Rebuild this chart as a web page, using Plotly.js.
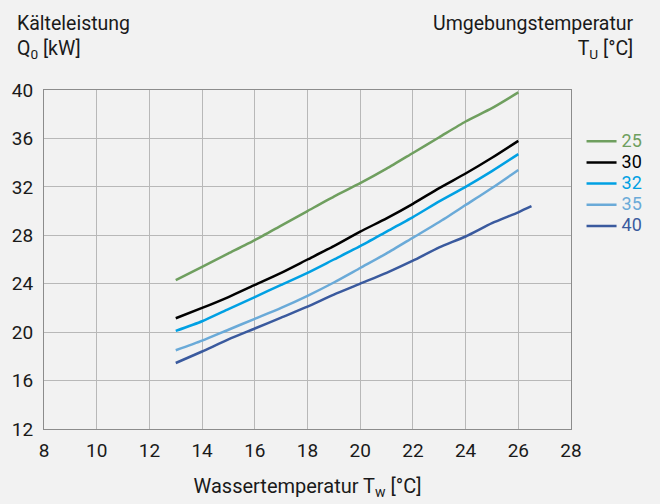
<!DOCTYPE html>
<html>
<head>
<meta charset="utf-8">
<script src="https://cdn.plot.ly/plotly-3.0.1.min.js"></script>
<style>html,body{margin:0;padding:0;background:#f2f2f2;}#chart{width:660px;height:504px;}</style>
</head>
<body>
<div id="chart"></div>
<script>
// Wassertemperatur T_w [°C]
const tw = [13, 14, 15, 16, 17, 18, 19, 20, 21, 22, 23, 24, 25, 26];
const tw40 = [13, 14, 15, 16, 17, 18, 19, 20, 21, 22, 23, 24, 25, 26, 26.5];
// Kälteleistung Q0 [kW] per Umgebungstemperatur T_U
const q25 = [24.3, 25.4, 26.5, 27.6, 28.8, 30.0, 31.2, 32.3, 33.5, 34.8, 36.1, 37.4, 38.5, 39.8];
const q30 = [21.15, 22.0, 22.9, 23.9, 24.9, 26.0, 27.1, 28.3, 29.4, 30.6, 31.9, 33.1, 34.4, 35.8];
const q32 = [20.1, 20.9, 21.9, 22.9, 23.9, 24.9, 26.0, 27.1, 28.3, 29.5, 30.8, 32.0, 33.3, 34.7];
const q35 = [18.5, 19.3, 20.2, 21.1, 22.0, 23.0, 24.1, 25.3, 26.5, 27.8, 29.1, 30.5, 31.9, 33.4];
const q40 = [17.45, 18.4, 19.4, 20.3, 21.2, 22.1, 23.1, 24.0, 24.9, 25.9, 27.0, 27.9, 29.0, 29.9, 30.4];
const seriesNames = ["25", "30", "32", "35", "40"];
const colors = ["#6f9f5f", "#000000", "#00a0e3", "#6aaad8", "#3a5a9e"];
const xTicks = [8, 10, 12, 14, 16, 18, 20, 22, 24, 26, 28];
const yTicks = [12, 16, 20, 24, 28, 32, 36, 40];

const FONT = "Roboto, 'Liberation Sans', Arial, sans-serif";
const xs = [tw, tw, tw, tw, tw40];
const ys = [q25, q30, q32, q35, q40];
const traces = ys.map((y, i) => ({
  x: xs[i], y: y, type: "scatter", mode: "lines",
  line: {color: colors[i], width: 2.5, shape: "spline", smoothing: 0.6},
  name: '<span style="color:' + colors[i] + ';font-size:18px">' + seriesNames[i] + '</span>',
  hoverinfo: "skip"
}));

const layout = {
  width: 660, height: 504,
  paper_bgcolor: "#f2f2f2", plot_bgcolor: "#f2f2f2",
  margin: {l: 44.3, r: 82.4, t: 89.7, b: 74.7, pad: 0},
  font: {family: FONT, size: 18, color: "#1a1a1a"},
  showlegend: true,
  legend: {x: 1.02, xanchor: "left", y: 0.895, yanchor: "top",
    bgcolor: "rgba(0,0,0,0)", font: {family: FONT, size: 14}, itemwidth: 30,
    tracegroupgap: 0},
  xaxis: {range: [8, 28], tickvals: xTicks, ticktext: xTicks.map(String),
    showgrid: true, gridcolor: "#b8b8b8", gridwidth: 1,
    showline: true, linecolor: "#8c8c8c", linewidth: 1, mirror: true,
    ticks: "", ticklabelstandoff: 4, zeroline: false,
    tickfont: {family: FONT, size: 19, color: "#1a1a1a"},
    title: {text: "Wassertemperatur T<sub>w</sub> [°C]", standoff: 18,
      font: {family: FONT, size: 20, color: "#1a1a1a"}}},
  yaxis: {range: [12, 40], tickvals: yTicks, ticktext: yTicks.map(String),
    showgrid: true, gridcolor: "#b8b8b8", gridwidth: 1,
    showline: true, linecolor: "#8c8c8c", linewidth: 1, mirror: true,
    ticks: "", ticklabelstandoff: 6, zeroline: false,
    tickfont: {family: FONT, size: 19, color: "#1a1a1a"}},
  annotations: [
    {text: "Kälteleistung<br>Q<sub>0</sub> [kW]", xref: "paper", yref: "paper",
     x: -0.055, y: 1.235, xanchor: "left", yanchor: "top", align: "left", showarrow: false,
     font: {family: FONT, size: 19.5, color: "#1a1a1a"}},
    {text: "Umgebungstemperatur<br>T<sub>U</sub> [°C]", xref: "paper", yref: "paper",
     x: 1.1226, y: 1.235, xanchor: "right", yanchor: "top", align: "right", showarrow: false,
     font: {family: FONT, size: 19.5, color: "#1a1a1a"}}
  ]
};

Plotly.newPlot("chart", traces, layout, {displayModeBar: false, staticPlot: true});
</script>
</body>
</html>
